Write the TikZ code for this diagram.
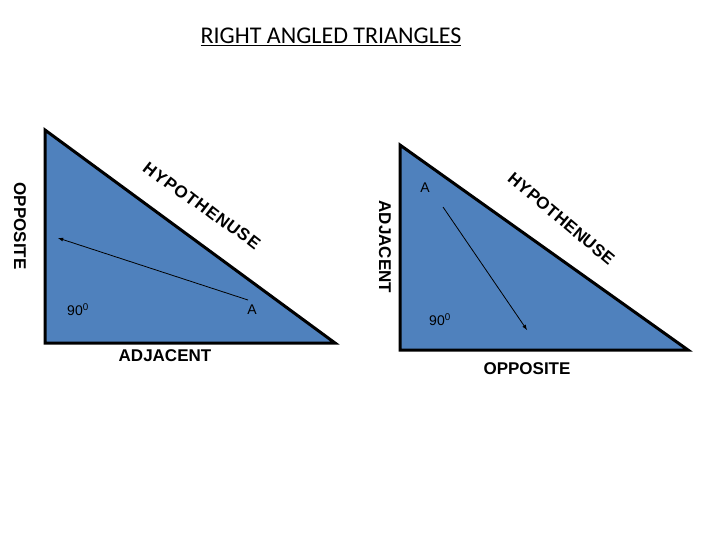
\documentclass[tikz,border=0pt]{standalone}
\usepackage{fontspec}
\setmainfont{Liberation Sans}
\newfontfamily\calfont{Carlito}
\begin{document}
\begin{tikzpicture}[x=1pt,y=-1pt,
 tri/.style={fill={rgb,255:red,79;green,129;blue,189},draw=black,line width=3pt,line join=miter},
 lab/.style={font=\bfseries\fontsize{17}{17}\selectfont},
 small/.style={font=\fontsize{14}{14}\selectfont},
 hyp/.style={font=\bfseries\fontsize{17}{17}\selectfont,inner sep=0pt}]
\useasboundingbox (0,0) rectangle (720,540);
\node (title) at (331,37) {\calfont\fontsize{24}{24}\selectfont\underline{RIGHT ANGLED TRIANGLES}};
\draw[tri] (45,130) -- (45,343) -- (335,343) -- cycle;
\draw[tri] (400,145) -- (400,350) -- (688,350) -- cycle;
\foreach \l [count=\i] in {H,Y,P,O,T,H,E,N,U,S,E}{
  \node[hyp,rotate=-38] at ({150+(\i-1)*10.4},{170+(\i-1)*7.2}) {\l};
  \node[hyp,rotate=-40] at ({515+(\i-1)*9.3},{180+(\i-1)*7.8}) {\l};
}
\node[small] (a1s) at (252,310) {A};
\node[small] (n1) at (78,310) {90\textsuperscript{0}};
\coordinate (a1) at (248,300); \coordinate (b1) at (58,238);
\draw[-latex,thick] (a1) -- (b1);
\node[small] (a2s) at (425,188) {A};
\node[small] (n2) at (440,320) {90\textsuperscript{0}};
\coordinate (a2) at (443,207); \coordinate (b2) at (527,330);
\draw[-latex,thick] (a2) -- (b2);
\node[lab,rotate=-90] (opp1) at (20,226) {OPPOSITE};
\node[lab,rotate=-90] (adj2) at (385,247) {ADJACENT};
\node[lab] (adj1) at (165,356) {ADJACENT};
\node[lab] (opp2) at (527,369) {OPPOSITE};
\end{tikzpicture}
\end{document}
